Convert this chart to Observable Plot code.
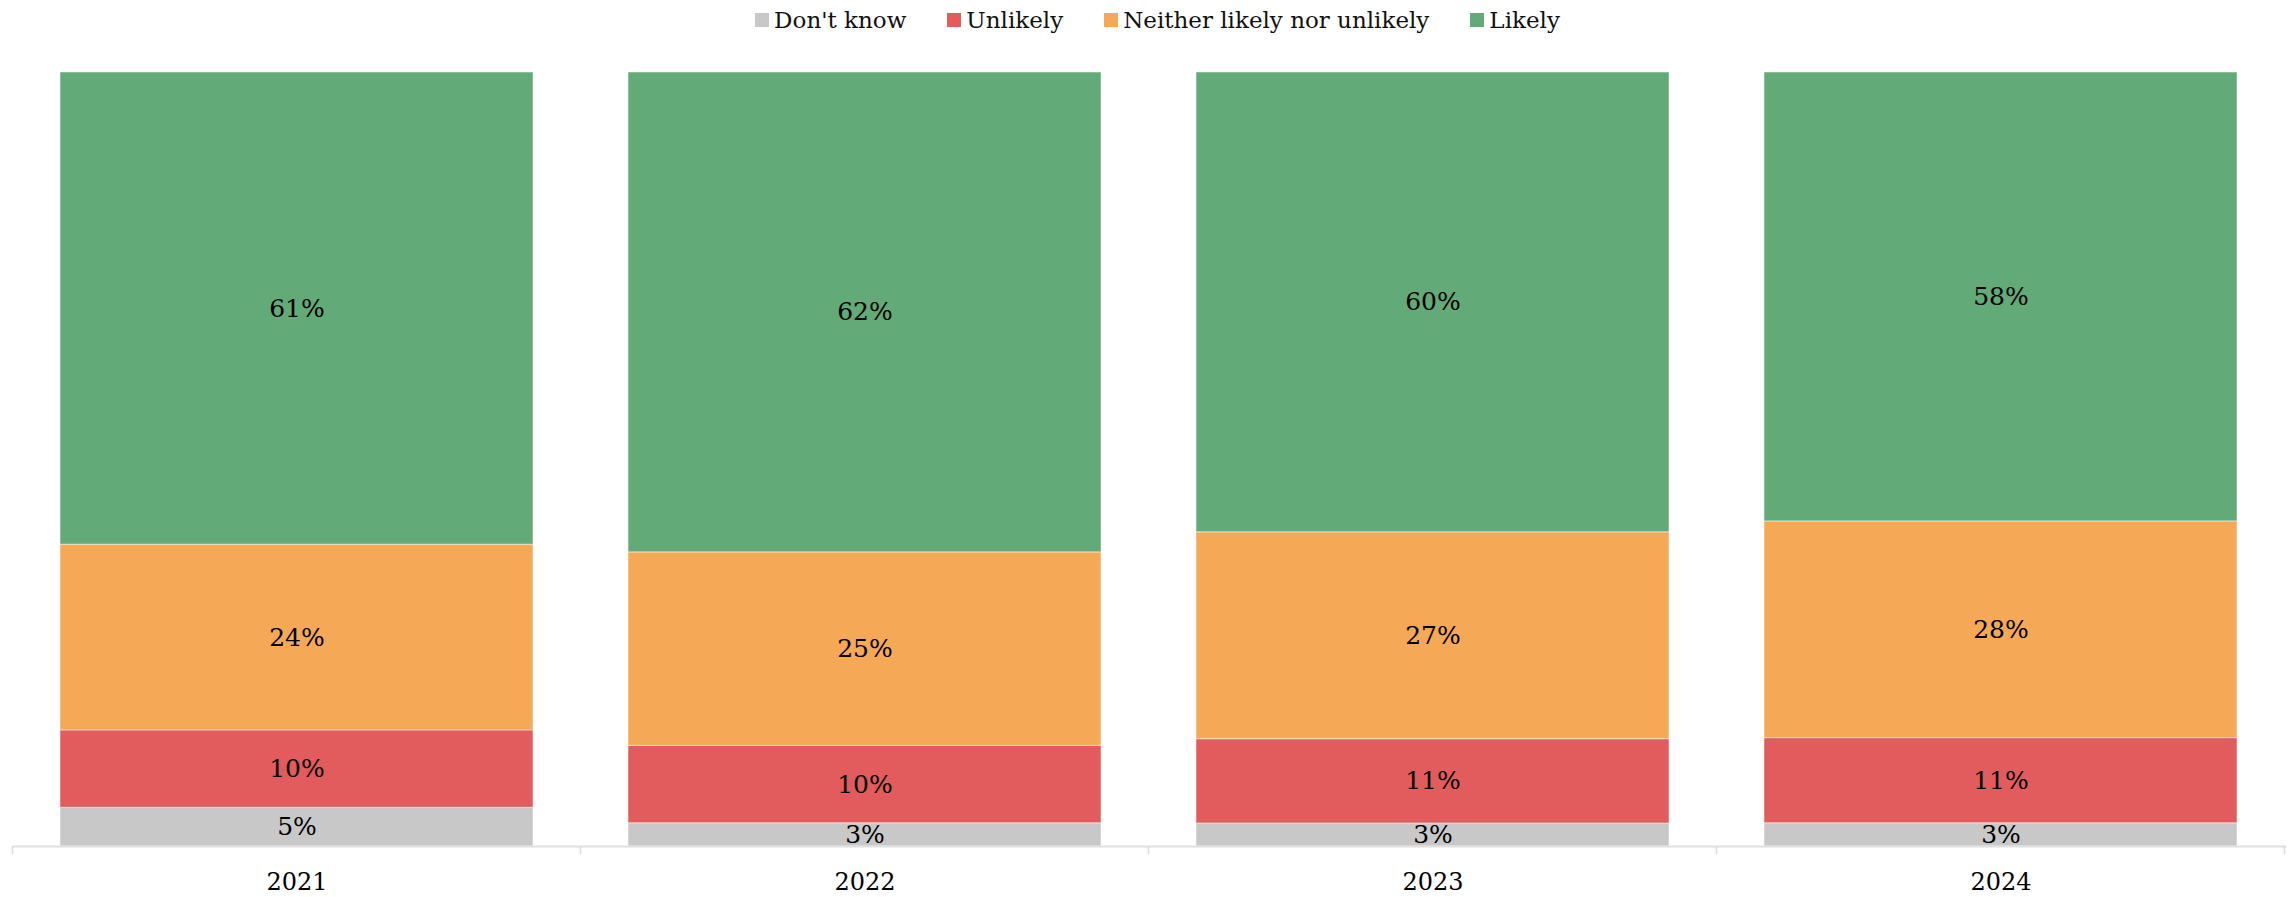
<!DOCTYPE html>
<html>
<head>
<meta charset="utf-8">
<script src="https://cdn.jsdelivr.net/npm/d3@7"></script>
<script src="https://cdn.jsdelivr.net/npm/@observablehq/plot@0.6"></script>
<style>
  html, body { margin: 0; padding: 0; background: #fff; overflow: hidden; }
  #chart { width: 2288px; }
  #legend .lg-swatches-wrap { justify-content: center; height: 40px; min-height: 40px; margin: 0; padding-left: 27px; box-sizing: border-box; }
  #legend .lg-swatches-wrap .lg-swatch { margin-right: 41px; }
  #legend .lg-swatches-wrap .lg-swatch:last-child { margin-right: 0; }
  #legend .lg-swatch > svg { margin-right: 5px; }
  svg.plot-main { display: block; }
</style>
</head>
<body>
<div id="chart">
  <div id="legend"></div>
  <div id="plot"></div>
</div>
<script>
// Survey years and answer categories (stacked bottom to top)
const years = ["2021", "2022", "2023", "2024"];
const categories = ["Don't know", "Unlikely", "Neither likely nor unlikely", "Likely"];
const colors = ["#c8c8c8", "#e25b5d", "#f5a957", "#63aa79"];

// Share of respondents per year, in percent
const dontKnow = [5, 3, 3, 3];
const unlikely = [10, 10, 11, 11];
const neither = [24, 25, 27, 28];
const likely = [61, 62, 60, 58];

const seriesByCategory = [dontKnow, unlikely, neither, likely];
const rows = [];
years.forEach((year, i) => {
  categories.forEach((category, k) => {
    rows.push({ year, category, value: seriesByCategory[k][i] });
  });
});

const FONT = "'DejaVu Serif', Georgia, serif";
const colorScale = { type: "ordinal", domain: categories, range: colors };

// Legend above the chart
const legend = Plot.legend({
  color: colorScale,
  swatchSize: 14,
  className: "lg",
  style: { fontFamily: FONT, fontSize: "23px", color: "#111" }
});
document.getElementById("legend").appendChild(legend);

// Small ticks at the boundaries between the year bands, below the baseline
function bandBoundaryTicks(index, scales, values, dimensions) {
  const x = scales.x;
  const step = x.step();
  const bw = x.bandwidth();
  const y0 = dimensions.height - dimensions.marginBottom;
  const positions = years.map(d => x(d) - (step - bw) / 2);
  positions.push(x(years[years.length - 1]) + bw + (step - bw) / 2);
  const g = d3.create("svg:g");
  g.selectAll("line")
    .data(positions)
    .join("line")
    .attr("x1", d => d).attr("x2", d => d)
    .attr("y1", y0).attr("y2", y0 + 8)
    .attr("stroke", "#d9d9d9")
    .attr("stroke-width", 1.5);
  return g.node();
}

const chart = Plot.plot({
  width: 2288,
  height: 857,
  marginTop: 32,
  marginBottom: 51,
  marginLeft: 12,
  marginRight: 2,
  className: "plot-main",
  style: { fontFamily: FONT, background: "#fff", color: "#000" },
  x: {
    domain: years,
    paddingInner: 0.167,
    paddingOuter: 0.083,
    label: null,
    tickSize: 0,
    tickPadding: 26
  },
  y: { axis: null, domain: [0, 1] },
  color: colorScale,
  marks: [
    Plot.barY(rows, Plot.stackY({
      x: "year",
      y: "value",
      z: "category",
      fill: "category",
      offset: "normalize",
      stroke: "#ffffff",
      strokeWidth: 1,
      strokeOpacity: 0.5
    })),
    Plot.text(rows, Plot.stackY({
      x: "year",
      y: "value",
      z: "category",
      offset: "normalize",
      text: d => `${d.value}%`,
      fontSize: 25,
      fill: "#000"
    })),
    Plot.ruleY([0], { stroke: "#e0e0e0", strokeWidth: 2 }),
    bandBoundaryTicks
  ]
});
document.getElementById("plot").appendChild(chart);
// Year labels under the bars are set in a larger size
chart.querySelectorAll("g[aria-label='x-axis tick label'], g[aria-label='x-axis']").forEach(n => {
  n.setAttribute("font-size", 24);
  n.style.fontSize = "24px";
});
</script>
</body>
</html>
